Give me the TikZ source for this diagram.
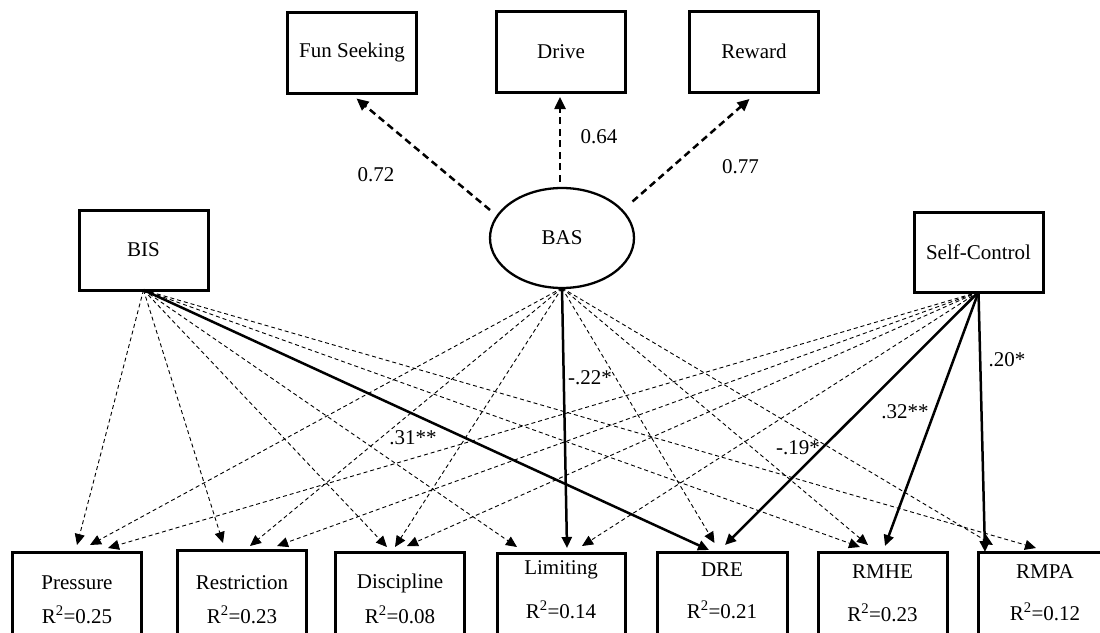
\documentclass[tikz,border=0pt]{standalone}
\usepackage{fontspec}
\setmainfont{Liberation Serif}
\usetikzlibrary{arrows.meta,shapes.geometric}
\begin{document}
\begin{tikzpicture}[x=1pt,y=-1pt,
  every node/.style={font=\fontsize{21}{25}\selectfont, inner sep=0pt, outer sep=0pt},
  box/.style={draw, line width=3pt, minimum width=129.5pt, minimum height=81pt},
  bbox/.style={draw, line width=3pt, minimum width=129pt, minimum height=100pt, anchor=north},
  lat/.style={draw, ellipse, line width=2.3pt, minimum width=144pt, minimum height=100pt},
  tipa/.style={-{Triangle[length=11pt,width=10pt]}},
  thinpath/.style={tipa, line width=0.9pt, dash pattern=on 4pt off 3pt},
  solidpath/.style={tipa, line width=2.5pt},
  loadpath/.style={-{Triangle[length=12pt,width=11pt]}, line width=2.5pt, dash pattern=on 7pt off 4.5pt}
]
\useasboundingbox (0,0) rectangle (1100,632);
\clip (0,0) rectangle (1100,632);

% top indicator boxes
\node[box] (fun) at (352,52.5) {Fun Seeking};
\node[box] (drive) at (561,52) {Drive};
\node[box] (reward) at (754,51.5) {Reward};

% latent and exogenous
\node[lat] (bas) at (562,238) {BAS};
\node[box, minimum width=129pt, minimum height=80pt] (bis) at (143.5,250) {BIS};
\node[box, minimum width=129pt, minimum height=80pt] (sc) at (978.5,252) {Self-Control};

% bottom outcome boxes
\node[bbox] (pres) at (77,552) {};
\node[bbox] (restr) at (242,550) {};
\node[bbox] (disc) at (400,552) {};
\node[bbox, minimum width=128pt] (limit) at (561,553) {};
\node[bbox, minimum width=130pt] (dre) at (722,552) {};
\node[bbox] (rmhe) at (882.5,552) {};
\node[bbox] (rmpa) at (1042.5,552.5) {};

\node (pres-t) at (77,583) {Pressure};
\node (pres-r) at (77,615) {R\textsuperscript{2}=0.25};
\node (restr-t) at (242,583) {Restriction};
\node (restr-r) at (242,615) {R\textsuperscript{2}=0.23};
\node (disc-t) at (400,583) {Discipline};
\node (disc-r) at (400,615) {R\textsuperscript{2}=0.08};
\node (limit-t) at (561,570) {Limiting};
\node (limit-r) at (561,610) {R\textsuperscript{2}=0.14};
\node (dre-t) at (722,570) {DRE};
\node (dre-r) at (722,610) {R\textsuperscript{2}=0.21};
\node (rmhe-t) at (882.5,572) {RMHE};
\node (rmhe-r) at (882.5,613) {R\textsuperscript{2}=0.23};
\node (rmpa-t) at (1045,572) {RMPA};
\node (rmpa-r) at (1045,612) {R\textsuperscript{2}=0.12};

% loading arrows
\coordinate (fs0) at (490,210);
\coordinate (fs1) at (356.5,98.5);
\coordinate (dv0) at (560,181.5);
\coordinate (dv1) at (560,97);
\coordinate (rw0) at (632.5,201.5);
\coordinate (rw1) at (749.5,99);
\draw[loadpath] (fs0) -- (fs1);
\draw[loadpath] (dv0) -- (dv1);
\draw[loadpath] (rw0) -- (rw1);
\node (l072) at (376,175) {0.72};
\node (l064) at (599,137) {0.64};
\node (l077) at (740.5,167) {0.77};

% arrow end points
\coordinate (pr1) at (77,545);   \coordinate (pr2) at (90,545);    \coordinate (pr3) at (108,548);
\coordinate (re1) at (223,543);  \coordinate (re2) at (250,546);   \coordinate (re3) at (277,546);
\coordinate (di1) at (387,547);  \coordinate (di2) at (395,547);   \coordinate (di3) at (407,546);
\coordinate (li1) at (517,547);  \coordinate (li2) at (567,548);   \coordinate (li3) at (582,546);
\coordinate (dr1) at (709,550);  \coordinate (dr2) at (714.5,543); \coordinate (dr3) at (725,545);
\coordinate (rh1) at (860,547);  \coordinate (rh2) at (868,545);   \coordinate (rh3) at (885,546);
\coordinate (rp1) at (1036,548); \coordinate (rp2) at (993,545);   \coordinate (rp3) at (985,552);

% dashed paths
\foreach \t in {pr1,re1,di1,li1,rh1,rp1} \draw[thinpath] (bis.south) -- (\t);
\foreach \t in {pr2,re2,di2,dr2,rh2,rp2} \draw[thinpath] (bas.south) -- (\t);
\foreach \t in {pr3,re3,di3,li3} \draw[thinpath] (sc.south) -- (\t);

% significant paths
\draw[solidpath] (bis.south) -- (dr1);
\draw[solidpath] (bas.south) -- (li2);
\draw[solidpath] (sc.south) -- (dr3);
\draw[solidpath] (sc.south) -- (rh3);
\draw[solidpath] (sc.south) -- (rp3);

\node (c31) at (413,438) {.31**};
\node (c22) at (590,378) {-.22*};
\node (c20) at (1007,360) {.20*};
\node (c32) at (905,412) {.32**};
\node (c19) at (798,448) {-.19*};
\end{tikzpicture}
\end{document}
